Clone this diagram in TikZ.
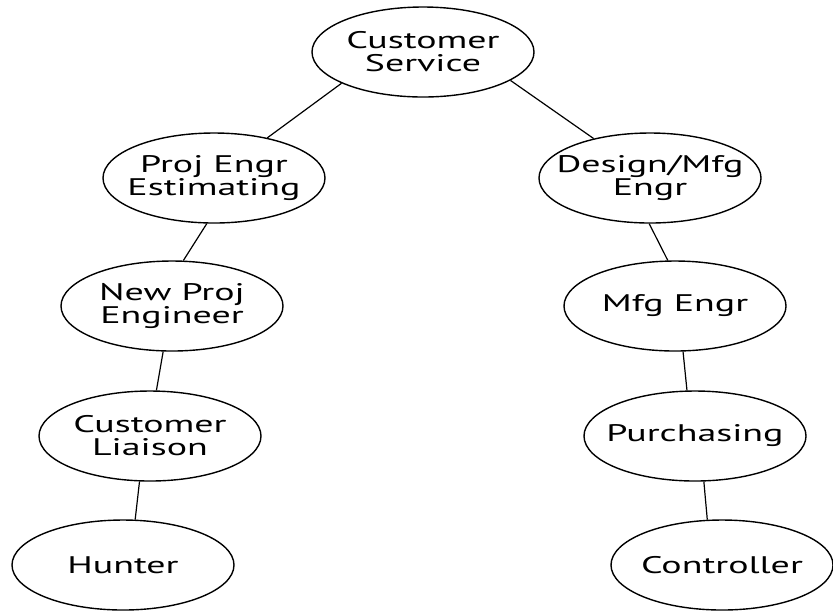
\documentclass[tikz,border=0pt]{standalone}
\usepackage{fontspec}
\setmainfont[FakeStretch=1.58]{PT Sans}
\usetikzlibrary{shapes.geometric}
\tikzstyle{unit} = [ellipse,
                    draw,
                    line width=0.7pt,
                    minimum width=111pt,
                    minimum height=45pt,
                    inner xsep=-10pt,
                    inner ysep=0pt,
                    align=center,
                    font=\fontsize{12}{11.5}\selectfont]
\tikzstyle{link} = [line width=0.6pt]

\begin{document}
\begin{tikzpicture}[x=0.5pt,y=-0.5pt]

  \useasboundingbox (0,0) rectangle (833,612);

  % Nodes
  \node[unit] (cs) at (423,52)  {Customer\\Service};
  \node[unit] (pe) at (214,178) {Proj Engr\\Estimating};
  \node[unit] (dm) at (650,178) {Design/Mfg\\Engr};
  \node[unit] (np) at (172,306) {New Proj\\Engineer};
  \node[unit] (me) at (675,306) {Mfg Engr};
  \node[unit] (cl) at (150,436) {Customer\\Liaison};
  \node[unit] (pu) at (695,436) {Purchasing};
  \node[unit] (hu) at (123,565) {Hunter};
  \node[unit] (co) at (722,565) {Controller};

  % Edges
  \draw[link] (cs.201) -- (pe.37);
  \draw[link] (cs.-18) -- (dm.145);
  \draw[link] (pe.261) -- (np.76);
  \draw[link] (dm.269) -- (me.99);
  \draw[link] (np.259) -- (cl.82);
  \draw[link] (me.280) -- (pu.100);
  \draw[link] (cl.257) -- (hu.75);
  \draw[link] (pu.281) -- (co.108);

\end{tikzpicture}
\end{document}
